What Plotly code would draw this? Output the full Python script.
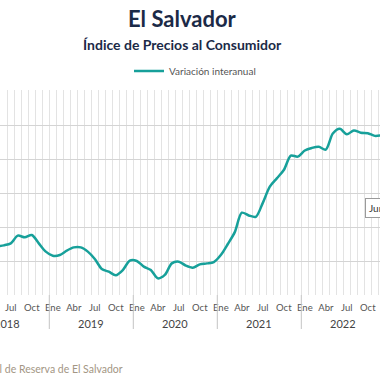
import plotly.graph_objects as go

# ---- data ----
month_names = ["Ene", "Feb", "Mar", "Abr", "May", "Jun", "Jul", "Ago", "Sep", "Oct", "Nov", "Dic"]
years = [2018, 2019, 2020, 2021, 2022]
first_month_index = 4  # May 2018 (0 = Ene 2018)
variacion = [
    # 2018 May-Dic
    0.85, 0.92, 1.04, 1.49, 1.39, 1.53, 1.04, 0.55,
    # 2019
    0.31, 0.35, 0.61, 0.80, 0.80, 0.55, 0.12, -0.47, -0.63, -0.84, -0.53, 0.02,
    # 2020
    0.00, -0.33, -0.53, -1.02, -0.82, -0.14, -0.04, -0.27, -0.39, -0.20, -0.14, -0.06,
    # 2021
    0.35, 1.00, 1.70, 2.84, 2.68, 2.60, 3.42, 4.37, 4.86, 5.35, 6.20, 6.14,
    # 2022
    6.50, 6.65, 6.72, 6.55, 7.50, 7.78, 7.45, 7.68, 7.55, 7.52, 7.36, 7.40,
]
labeled_months = ["Ene", "Abr", "Jul", "Oct"]
series_name = "Variación interanual"
title = "El Salvador"
subtitle = "Índice de Precios al Consumidor"
source = "Fuente: Banco Central de Reserva de El Salvador"
tooltip_text = "Jun 2022"

# ---- derived ----
xs = list(range(first_month_index, first_month_index + len(variacion)))
tickvals, ticktext = [], []
for i in range(0, 12 * len(years)):
    m = month_names[i % 12]
    if m in labeled_months:
        tickvals.append(i)
        ticktext.append(m)

TEAL = "#17a09a"
NAVY = "#1b2a47"
FONT = "Lato"

W, H = 380, 380
top, bottom = 90, 295
plot_h = bottom - top
def py(px):
    return (bottom - px) / plot_h

fig = go.Figure()
fig.add_trace(go.Scatter(
    x=xs, y=variacion, mode="lines", name=series_name,
    line=dict(color=TEAL, width=2.5, shape="spline", smoothing=0.8),
    hoverinfo="skip",
))

x0 = 4.457
x1 = 58.74
fig.update_layout(
    width=W, height=H,
    margin=dict(l=0, r=0, t=top, b=H - bottom),
    paper_bgcolor="white", plot_bgcolor="white",
    font=dict(family=FONT, color="#555555"),
    showlegend=True,
    legend=dict(
        orientation="h", x=129 / W, xanchor="left", y=py(71), yanchor="middle",
        font=dict(size=10, color="#555555", family=FONT),
        bgcolor="rgba(0,0,0,0)",
    ),
    xaxis=dict(
        range=[x0, x1], tickmode="array", tickvals=tickvals, ticktext=ticktext,
        showgrid=False, zeroline=False, showline=False,
        ticks="outside", ticklen=4, tickcolor="rgba(0,0,0,0)",
        tickfont=dict(size=9.5, color="#555555", family=FONT),
        minor=dict(tickmode="linear", tick0=0.5, dtick=1, showgrid=True,
                   gridcolor="#e3e3e3", gridwidth=1, ticks=""),
    ),
    yaxis=dict(
        range=[-2, -2 + plot_h / 17.0], tickmode="array", tickvals=[0, 2, 4, 6, 8, 10],
        showticklabels=False,
        showgrid=True, gridcolor="#d4d4d4", gridwidth=1, zeroline=False,
    ),
)

annotations = [
    dict(text="<b>" + title + "</b>", xref="paper", yref="paper", x=182 / W, y=py(19),
         xanchor="center", yanchor="middle", showarrow=False,
         font=dict(size=22, color=NAVY, family=FONT)),
    dict(text="<b>" + subtitle + "</b>", xref="paper", yref="paper", x=182 / W, y=py(44),
         xanchor="center", yanchor="middle", showarrow=False,
         font=dict(size=14, color=NAVY, family=FONT)),
    dict(text=source, xref="paper", yref="paper", x=125 / W, y=py(369),
         xanchor="right", yanchor="middle", showarrow=False,
         font=dict(size=10.5, color="#a39684", family=FONT)),
    dict(text=tooltip_text, xref="paper", yref="paper", x=365 / W, y=py(207.5),
         xanchor="left", yanchor="middle", showarrow=False,
         font=dict(size=10, color="#333333", family=FONT),
         bordercolor="#9a9a9a", borderwidth=1, borderpad=3, bgcolor="white"),
]
shapes = []
for k, yr in enumerate(years):
    start = 12 * k
    annotations.append(dict(text=str(yr), xref="x", yref="paper", x=start + 5.5, y=py(323),
                            xanchor="center", yanchor="middle", showarrow=False,
                            font=dict(size=11, color="#444444", family=FONT)))
    shapes.append(dict(type="line", xref="x", yref="paper", x0=start - 0.5, x1=start - 0.5,
                       y0=0, y1=py(329), line=dict(color="#c4c4c4", width=1)))
fig.update_layout(annotations=annotations, shapes=shapes)

fig.write_html(
    "out.html",
    config={"displayModeBar": False},
    post_script="document.body.style.margin='0px';document.body.style.overflow='hidden';",
)
